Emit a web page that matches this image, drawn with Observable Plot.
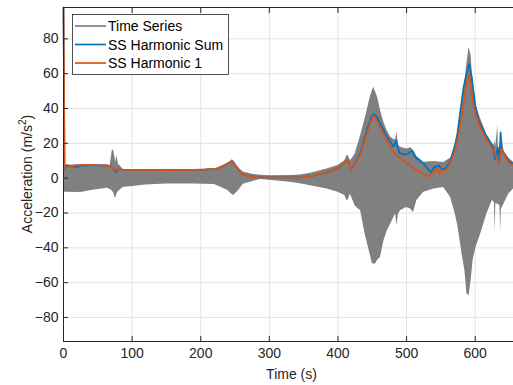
<!DOCTYPE html>
<html><head><meta charset="utf-8">
<script src="https://cdn.jsdelivr.net/npm/d3@7"></script>
<script src="https://cdn.jsdelivr.net/npm/@observablehq/plot@0.6"></script>
<style>
html,body{margin:0;padding:0;background:#fff;overflow:hidden;width:513px;height:385px;}
#chart{width:513px;height:385px;overflow:hidden;}
#chart svg{display:block;max-width:none !important;width:521px !important;height:385px !important;}
</style></head><body><div id="chart"></div>
<script>
// Time series envelope (upper / lower extent of the dense oscillation)
const envTime  = [0,3,25,45,64,68,71,73,75,76,78,80,87,120,150,190,220,230,240,246,248,255,262,275,287,300,330,345,360,384,400,410,413,415,418,421,425,433,440,442,447,450,452,455,458,462,467,472,477,482,484,486,488,491,500,506,510,515,525,540,554,564,571,575,578,581,585,588,591,594,597,601,608,617,625,628,629,630,633,634,636,637,638,642,649,656,666];
const envUpper = [7,7.2,7.8,7.6,7.5,7.2,15.8,16.2,12,9,12.9,8.2,5,5,5,5,5.4,6.5,8.5,10.5,10,6,3.5,2.2,1.6,1.4,1.5,1.8,2.8,5.3,7.2,10,12.9,13,10,11.5,13.9,24.4,34.9,38,46.4,50,52.2,49.5,46,38.8,32,27,23.5,22,22,26.3,19,17.7,16.8,17.5,16,12.5,9.1,9.5,9,11.5,18,27.3,35,43,56,66,75.2,70.4,54,42,34,25,20,18.7,22,18,30.6,12,12,20,26.3,15.8,11.5,9,8.5];
const envLower = [-8,-8.1,-8.2,-6.8,-5.8,-6.5,-7.2,-8.5,-11,-11.5,-9,-7.6,-5.3,-3.9,-3.4,-3.4,-3.6,-5.3,-7.2,-9.5,-10,-7.2,-3.5,-2,-0.8,-1.2,-2.4,-3.2,-4.3,-6.2,-8.1,-10,-12.9,-12.5,-9.1,-12,-16,-18.7,-33,-36,-44,-49,-49.3,-49.3,-47,-45.5,-35.9,-30.2,-26.3,-22,-20.6,-27.3,-21,-18.7,-16.8,-17.7,-19.7,-12.9,-8.1,-6.2,-5.3,-11,-20.6,-28,-35.9,-44,-53.2,-66.5,-67.5,-58.9,-47,-40,-32.1,-20.6,-12.9,-14,-31.1,-14.7,-15,-15,-16,-31.1,-18,-14.8,-9.1,-6.2,-6];

// SS Harmonic 1
const h1Time  = [0,1.5,10,25,45,64,72,76,80,87,150,200,224,235,246,252,260,270,287,345,365,384,401,410,414,419,425,433,442,448,452,457,462,472,481,491,496,506,513,520,530,540,545,548,552,557,564,569,574,581,587,591,594,598,605,615,625,632,635,638,644,651,666];
const h1Value = [98,6,6.8,7.6,7.5,7.2,6,4.3,5.5,4.7,4.6,4.7,5.5,7.5,9.7,6.5,2.4,1.2,0.5,0.5,1.5,3.3,5.9,9,11,4.7,8,13.9,25.4,33,35.9,33,29.2,20.6,14.8,11.5,10,7.2,5,3.2,0.9,3.3,6.2,2.4,4.7,4.3,9.1,14,21.6,36.9,54.1,59.9,51.3,40.7,31.1,23.4,16.8,11,8.2,16.8,12,8.2,6.5];

// SS Harmonic Sum
const sumTime  = [0,1.5,5,10,20,25,45,64,72,76,80,87,150,200,224,235,246,252,260,270,287,345,365,384,401,410,414,419,425,433,442,448,452,457,462,472,481,485,489,496,502,508,513,525,535,540,547,552,557,564,571,574,583,591,595,600,605,615,625,629,633,635,637,638,642,651,666];
const sumValue = [98,5.5,7.5,6.8,6.5,7.2,7.5,7.2,6,3.3,5.5,4.7,4.6,4.7,5.5,7.5,9.7,6.5,2.4,1.2,0.5,0.5,1.5,3.3,5.9,9,11,4.7,8.5,15,27,34.5,36.9,35,31,23.4,18,21.6,14.8,13.5,14,15.8,12,8.2,3.3,6.2,7.2,5,5.5,10,19.7,25.4,52.2,65.6,57.9,42,33,25,18.7,11,17.7,8.2,26.3,17,13.9,9.1,7];

const xTicks = [0,100,200,300,400,500,600];
const yTicks = [-80,-60,-40,-20,0,20,40,60,80];
const legendLabels = ["Time Series","SS Harmonic Sum","SS Harmonic 1"];
const colTS = "#808080", colSum = "#0072BD", colH1 = "#D95319";
const axisCol = "#262626";

const env = envTime.map((t,i)=>({t, hi: envUpper[i], lo: envLower[i]}));
const h1 = h1Time.map((t,i)=>({t, v: h1Value[i]}));
const sum = sumTime.map((t,i)=>({t, v: sumValue[i]}));

const font = "'Liberation Sans', Arial, Helvetica, sans-serif";
const plot = Plot.plot({
  width: 521, height: 385,
  marginLeft: 63, marginRight: 1, marginTop: 7, marginBottom: 44,
  style: {fontFamily: font, fontSize: "14px", color: axisCol, background: "#fff", maxWidth: "none"},
  x: {domain: [0, 666], label: null},
  y: {domain: [-93.8, 98], label: null},
  marks: [
    Plot.gridX(xTicks, {stroke: "#e3e3e3", strokeOpacity: 1}),
    Plot.gridY(yTicks, {stroke: "#e3e3e3", strokeOpacity: 1}),
    Plot.areaY(env, {x: "t", y1: "lo", y2: "hi", fill: colTS}),
    Plot.line(sum, {x: "t", y: "v", stroke: colSum, strokeWidth: 1.7}),
    Plot.line(h1, {x: "t", y: "v", stroke: colH1, strokeWidth: 1.7}),
    Plot.axisX(xTicks, {anchor: "bottom", tickSize: -5, tickPadding: 12, label: null, fontSize: 14, stroke: axisCol}),
    Plot.axisX(xTicks, {anchor: "top", tickSize: -5, tickFormat: () => "", label: null, stroke: axisCol}),
    Plot.axisY(yTicks, {anchor: "left", tickSize: -5, tickPadding: 10, label: null, fontSize: 14, stroke: axisCol}),
    Plot.frame({stroke: axisCol})
  ]
});
document.getElementById("chart").appendChild(plot);

const svg = d3.select(plot);
const xs = plot.scale("x"), ys = plot.scale("y");
const xc = (xs.range[0] + xs.range[1]) / 2;
const yc = (ys.range[0] + ys.range[1]) / 2;
svg.append("text").attr("x", xc).attr("y", 374).attr("text-anchor", "middle")
  .attr("dominant-baseline", "central").attr("fill", axisCol).style("font-family", font).style("font-size", "14px")
  .text("Time (s)");
const yl = svg.append("text").attr("transform", `translate(27,${yc}) rotate(-90)`).attr("text-anchor", "middle")
  .attr("dominant-baseline", "central").attr("fill", axisCol).style("font-family", font).style("font-size", "14px");
yl.append("tspan").text("Acceleration (m/s");
yl.append("tspan").attr("font-size", "10px").attr("dy", "-5").text("2");
yl.append("tspan").attr("dy", "5").text(")");

// legend
const lg = svg.append("g");
lg.append("rect").attr("x", 72.5).attr("y", 14.5).attr("width", 156).attr("height", 60)
  .attr("fill", "#fff").attr("stroke", axisCol).attr("stroke-width", 0.8);
const lcols = [colTS, colSum, colH1];
const ly = [26, 44.5, 63];
legendLabels.forEach((s, i) => {
  lg.append("line").attr("x1", 75).attr("x2", 106).attr("y1", ly[i]).attr("y2", ly[i])
    .attr("stroke", lcols[i]).attr("stroke-width", 1.7);
  lg.append("text").attr("x", 108).attr("y", ly[i]).attr("text-anchor", "start").attr("dominant-baseline", "central")
    .attr("fill", "#000").style("font-family", font).style("font-size", "14px").text(s);
});
</script></body></html>
